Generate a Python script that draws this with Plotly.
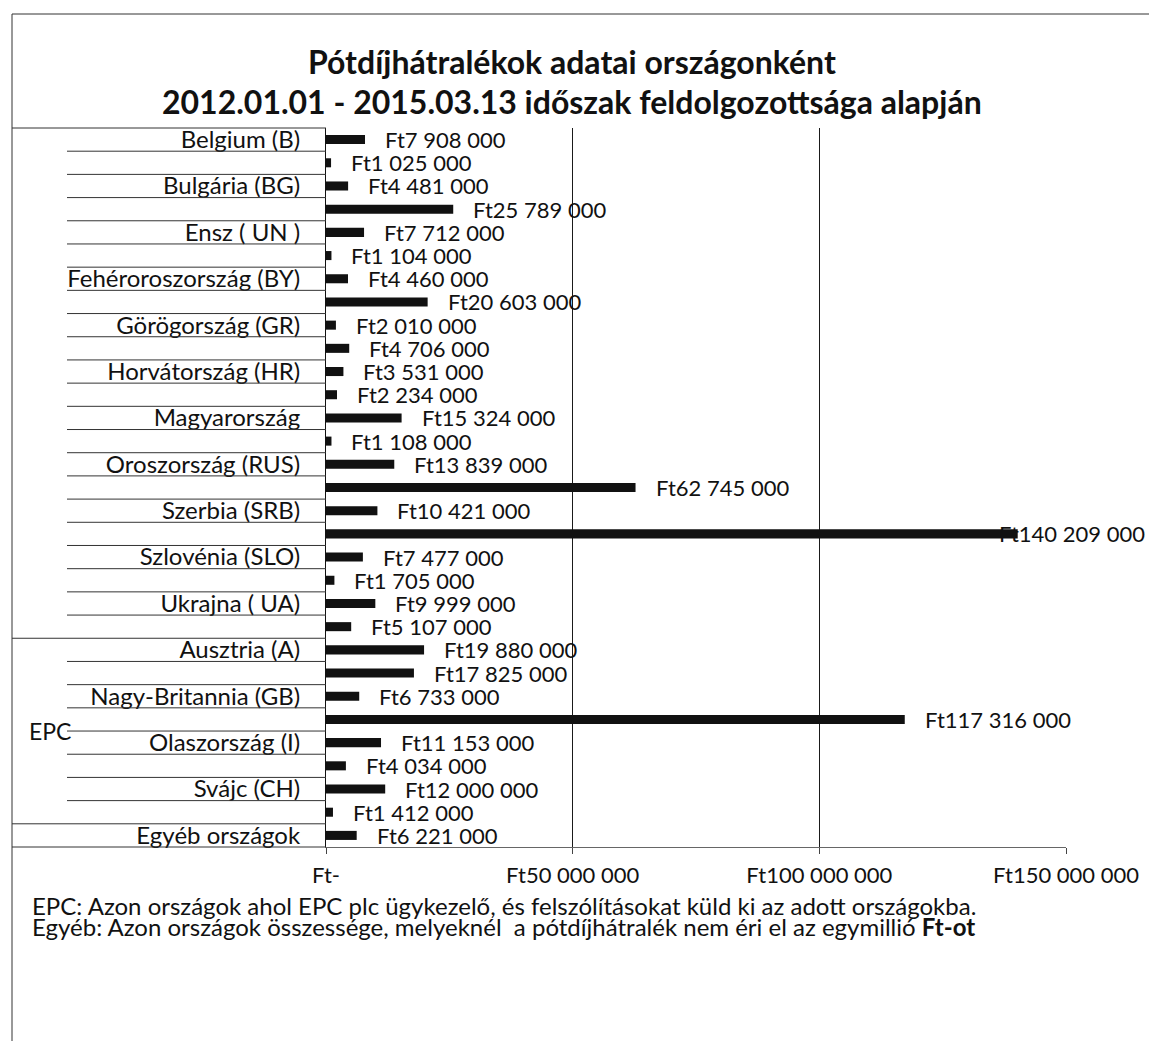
import plotly.graph_objects as go

# ---------------- data ----------------
row_labels = [
    "Belgium (B)", "", "Bulgária (BG)", "", "Ensz ( UN )", "",
    "Fehéroroszország (BY)", "", "Görögország (GR)", "", "Horvátország (HR)", "",
    "Magyarország", "", "Oroszország (RUS)", "", "Szerbia (SRB)", "",
    "Szlovénia (SLO)", "", "Ukrajna ( UA)", "", "Ausztria (A)", "",
    "Nagy-Britannia (GB)", "", "Olaszország (I)", "", "Svájc (CH)", "",
    "Egyéb országok",
]
values_ft = [
    7908000, 1025000, 4481000, 25789000, 7712000, 1104000,
    4460000, 20603000, 2010000, 4706000, 3531000, 2234000,
    15324000, 1108000, 13839000, 62745000, 10421000, 140209000,
    7477000, 1705000, 9999000, 5107000, 19880000, 17825000,
    6733000, 117316000, 11153000, 4034000, 12000000, 1412000,
    6221000,
]
group_names = ["", "EPC", ""]
group_sizes = [22, 8, 1]

x_tickvals = [0, 50000000, 100000000, 150000000]
x_ticktext = ["Ft-", "Ft50 000 000", "Ft100 000 000", "Ft150 000 000"]

title_lines = [
    "Pótdíjhátralékok adatai országonként",
    "2012.01.01 - 2015.03.13 időszak feldolgozottsága alapján",
]
footnote_lines = [
    "EPC: Azon országok ahol EPC plc ügykezelő, és felszólításokat küld ki az adott országokba.",
    "Egyéb: Azon országok összessége, melyeknél  a pótdíjhátralék nem éri el az egymillió Ft-ot",
]

# ---------------- layout geometry ----------------
W, H = 1149, 1041
L, R, T, B = 326, 83, 128, 194
PW, PH = W - L - R, H - T - B
N = len(values_ft)
XMAX = x_tickvals[-1]
FONT = "Lato"
VAL_SIZE = 22
VAL_PAD = 18          # gap between bar end and its label (px)
CHAR_W = 11.2         # approx. label glyph width at VAL_SIZE (px)
RIGHT_LIMIT = W - 2   # labels that would run past this are pulled back (Excel-like)


def px_x(px):
    return (px - L) / PW


def px_y(py):
    return 1 - (py - T) / PH


def boundary_y(k):
    # paper y of the boundary above row k (y axis range is [N-0.5, -0.5])
    return 1 - k / N


def fmt_ft(v):
    return "Ft" + f"{v:,}".replace(",", "\u00a0")


fig = go.Figure()
fig.add_trace(go.Bar(
    x=values_ft,
    y=list(range(N)),
    orientation="h",
    marker=dict(color="#111111", line=dict(width=0)),
    hoverinfo="skip",
))

shapes = []
# outer chart border
shapes.append(dict(type="rect", xref="paper", yref="paper",
                   x0=px_x(12), x1=px_x(W + 20), y0=px_y(H + 20), y1=px_y(14),
                   line=dict(color="#333333", width=1), fillcolor="rgba(0,0,0,0)"))

# category separator lines in the label area
group_edges = [0]
for s in group_sizes:
    group_edges.append(group_edges[-1] + s)
for k in range(N + 1):
    x_start = px_x(12) if k in group_edges else px_x(67)
    shapes.append(dict(type="line", xref="paper", yref="paper",
                       x0=x_start, x1=0, y0=boundary_y(k), y1=boundary_y(k),
                       line=dict(color="#333333", width=1)))

annotations = []
# value labels (outside end; pulled back inside the chart when too long)
for i, v in enumerate(values_ft):
    txt = fmt_ft(v)
    end_px = L + v / XMAX * PW + VAL_PAD + len(txt) * CHAR_W
    if end_px > RIGHT_LIMIT:
        annotations.append(dict(text=txt, xref="paper", yref="y", x=px_x(RIGHT_LIMIT), y=i,
                                xanchor="right", yanchor="middle", showarrow=False,
                                font=dict(family=FONT, size=VAL_SIZE, color="#111111")))
    else:
        annotations.append(dict(text=txt, xref="x", yref="y", x=v, y=i, xshift=VAL_PAD,
                                xanchor="left", yanchor="middle", showarrow=False,
                                font=dict(family=FONT, size=VAL_SIZE, color="#111111")))
# group labels
for name, a, b in zip(group_names, group_edges[:-1], group_edges[1:]):
    if name:
        annotations.append(dict(text=name, xref="paper", yref="paper",
                                x=px_x(50), y=(boundary_y(a) + boundary_y(b)) / 2,
                                xanchor="center", yanchor="middle", showarrow=False,
                                font=dict(family=FONT, size=23, color="#111111")))
# title
for line, ypx in zip(title_lines, [62, 101]):
    annotations.append(dict(text="<b>" + line + "</b>", xref="paper", yref="paper",
                            x=px_x(572), y=px_y(ypx), xanchor="center", yanchor="middle",
                            showarrow=False,
                            font=dict(family=FONT, size=32, color="#111111")))
# footnotes
for line, ypx in zip(footnote_lines, [906, 926]):
    shown = line.replace("  ", " \u00a0").replace("Ft-ot", "<b>Ft-ot</b>")
    annotations.append(dict(text=shown, xref="paper", yref="paper",
                            x=px_x(30), y=px_y(ypx), xanchor="left", yanchor="middle",
                            showarrow=False,
                            font=dict(family=FONT, size=24, color="#111111")))

fig.update_layout(
    width=W, height=H,
    margin=dict(l=L, r=R, t=T, b=B, autoexpand=False),
    paper_bgcolor="white", plot_bgcolor="white",
    showlegend=False,
    bargap=0.61,
    font=dict(family=FONT, size=22, color="#111111"),
    shapes=shapes,
    annotations=annotations,
    xaxis=dict(
        range=[0, XMAX], tickvals=x_tickvals, ticktext=x_ticktext,
        showgrid=True, gridcolor="#1a1a1a", gridwidth=1, zeroline=False,
        showline=True, linecolor="#666666", linewidth=1,
        ticks="outside", ticklen=6, tickcolor="#444444",
        tickfont=dict(family=FONT, size=22, color="#111111"),
        ticklabelstandoff=3, fixedrange=True,
    ),
    yaxis=dict(
        range=[N - 0.5, -0.5], tickvals=list(range(N)), ticktext=row_labels,
        showgrid=False, zeroline=False, showline=True, linecolor="#111111", linewidth=1,
        ticks="", ticklabelstandoff=20,
        tickfont=dict(family=FONT, size=24, color="#111111"), fixedrange=True,
    ),
)

fig.write_html(
    "out.html",
    config={"displayModeBar": False},
    post_script="document.body.style.margin='0';document.body.style.overflow='hidden';",
)
